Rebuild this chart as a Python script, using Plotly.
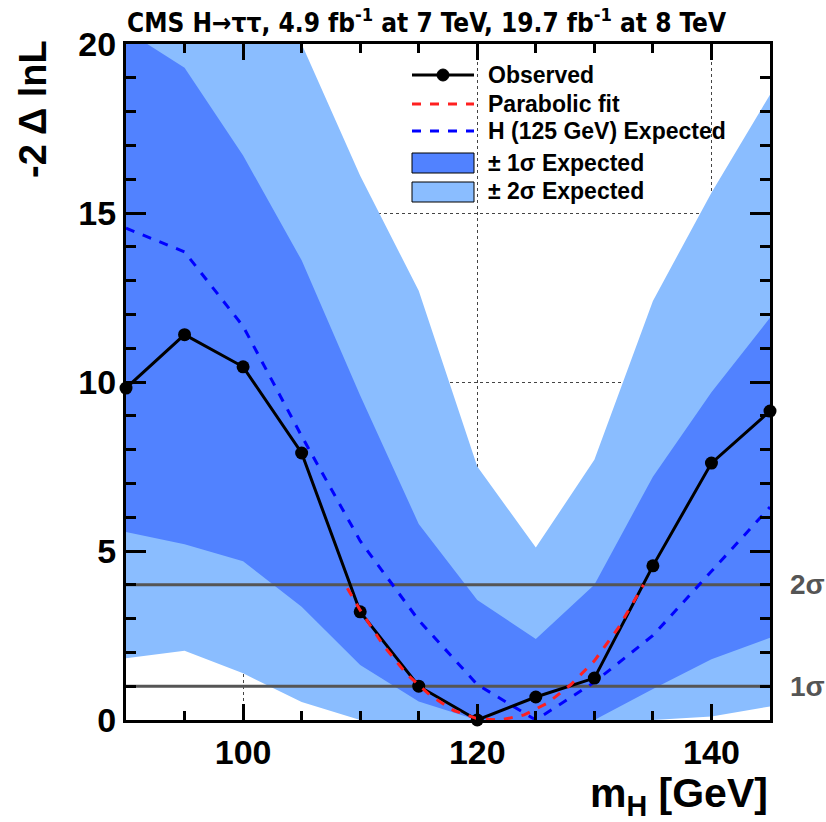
import plotly.graph_objects as go

# ---------------- data ----------------
mass = [90, 95, 100, 105, 110, 115, 120, 125, 130, 135, 140, 145]
observed = [9.82, 11.4, 10.45, 7.9, 3.2, 1.0, 0.0, 0.68, 1.24, 4.56, 7.6, 9.14]
expected = [14.55, 13.85, 11.65, 8.4, 5.3, 2.95, 1.05, 0.0, 1.12, 2.5, 4.4, 6.3]
band1_lo = [5.56, 5.2, 4.7, 3.35, 1.63, 0.55, 0.0, 0.0, 0.0, 0.92, 1.8, 2.43]
band1_hi = [20.4, 19.3, 16.7, 13.6, 9.6, 5.8, 3.55, 2.4, 4.0, 7.2, 9.7, 11.9]
band2_lo = [1.83, 2.05, 1.38, 0.53, 0.0, 0.0, 0.0, 0.0, 0.0, 0.0, 0.1, 0.4]
band2_hi = [26.0, 24.0, 23.0, 20.0, 16.1, 12.7, 7.5, 5.1, 7.7, 12.4, 15.6, 18.5]

fit_mass = [108.9, 110, 112, 114, 116, 118, 120, 122, 124, 126, 128, 130, 132, 134, 134.2]
fit_vals = [3.9, 3.25, 2.2, 1.35, 0.72, 0.28, 0.04, 0.0, 0.15, 0.5, 1.05, 1.75, 2.7, 3.85, 4.0]

sigma_levels = [1, 4]
sigma_labels = ["1σ", "2σ"]

x_ticks = [100, 120, 140]
y_ticks = [0, 5, 10, 15, 20]

# ---------------- style ----------------
C_1S = "#5182FF"
C_2S = "#8ABDFF"
FONT = "Liberation Sans"
W, H = 826, 822
L, R, T, B = 126, 770, 44, 720

fig = go.Figure()

# 2 sigma band
fig.add_trace(go.Scatter(x=mass, y=band2_lo, mode="lines", line=dict(width=0, color=C_2S),
                         showlegend=False, hoverinfo="skip"))
fig.add_trace(go.Scatter(x=mass, y=band2_hi, mode="lines", line=dict(width=0, color=C_2S),
                         fill="tonexty", fillcolor=C_2S, showlegend=False))
# 1 sigma band
fig.add_trace(go.Scatter(x=mass, y=band1_lo, mode="lines", line=dict(width=0, color=C_1S),
                         showlegend=False, hoverinfo="skip"))
fig.add_trace(go.Scatter(x=mass, y=band1_hi, mode="lines", line=dict(width=0, color=C_1S),
                         fill="tonexty", fillcolor=C_1S, showlegend=False))
# sigma lines
for lv in sigma_levels:
    fig.add_trace(go.Scatter(x=[mass[0], mass[-1]], y=[lv, lv], mode="lines",
                             line=dict(color="#555555", width=3), showlegend=False))
# expected
fig.add_trace(go.Scatter(x=mass, y=expected, mode="lines",
                         line=dict(color="#0000FF", width=3, dash="dash"), showlegend=False))
# observed
fig.add_trace(go.Scatter(x=mass, y=observed, mode="lines+markers",
                         line=dict(color="black", width=3),
                         marker=dict(color="black", size=13), cliponaxis=False, showlegend=False))
# parabolic fit
fig.add_trace(go.Scatter(x=fit_mass, y=fit_vals, mode="lines",
                         line=dict(color="#FF2020", width=3, dash="dash"), showlegend=False))


def px(xp):
    return (xp - L) / (R - L)


def py(yp):
    return (B - yp) / (B - T)


ann = []
shapes = []

# sigma labels
for lv, lab in zip(sigma_levels, sigma_labels):
    ann.append(dict(x=px(788), xref="paper", y=lv, yref="y", text=lab, showarrow=False,
                    xanchor="left", yanchor="middle",
                    font=dict(family=FONT, size=28, color="#555555", weight="bold")))

# manual legend
leg_rows = [75, 104, 131, 163, 191]
leg_text = ["Observed", "Parabolic fit", "H (125 GeV) Expected",
            "± 1σ Expected", "± 2σ Expected"]
for yy, t in zip(leg_rows, leg_text):
    ann.append(dict(x=px(486), xref="paper", y=py(yy), yref="paper", text=t, showarrow=False,
                    xanchor="left", yanchor="middle",
                    font=dict(family=FONT, size=23, color="black", weight="bold")))
shapes.append(dict(type="line", xref="paper", yref="paper", x0=px(412), x1=px(474),
                   y0=py(75), y1=py(75), line=dict(color="black", width=3)))
shapes.append(dict(type="circle", xref="paper", yref="paper", x0=px(437), x1=px(449),
                   y0=py(69), y1=py(81), fillcolor="black", line=dict(color="black", width=1)))
shapes.append(dict(type="line", xref="paper", yref="paper", x0=px(412), x1=px(474),
                   y0=py(104), y1=py(104), line=dict(color="#FF2020", width=3, dash="dash")))
shapes.append(dict(type="line", xref="paper", yref="paper", x0=px(412), x1=px(474),
                   y0=py(131), y1=py(131), line=dict(color="#0000FF", width=3, dash="dash")))
shapes.append(dict(type="rect", xref="paper", yref="paper", x0=px(412), x1=px(474),
                   y0=py(153), y1=py(173), fillcolor=C_1S, line=dict(color="black", width=1)))
shapes.append(dict(type="rect", xref="paper", yref="paper", x0=px(412), x1=px(474),
                   y0=py(182), y1=py(202), fillcolor=C_2S, line=dict(color="black", width=1)))

# title
ann.append(dict(x=px(125), xref="paper", y=py(21), yref="paper",
                text="CMS H→ττ, 4.9 fb<sup>-1</sup> at 7 TeV, 19.7 fb<sup>-1</sup> at 8 TeV",
                showarrow=False, xanchor="left", yanchor="middle",
                font=dict(family="Liberation Sans Narrow, DejaVu Sans Condensed, Liberation Sans",
                          size=26, color="black", weight="bold")))
# axis titles
ann.append(dict(x=px(770), xref="paper", y=py(796), yref="paper",
                text="m<sub>H</sub> [GeV]", showarrow=False, xanchor="right", yanchor="middle",
                font=dict(family=FONT, size=41, color="black", weight="bold")))
ann.append(dict(x=px(33), xref="paper", y=py(38), yref="paper", text="-2 Δ lnL",
                textangle=-90, showarrow=False, xanchor="center", yanchor="top",
                font=dict(family=FONT, size=38, color="black", weight="bold")))

axis_common = dict(showline=True, linecolor="black", linewidth=3, mirror="ticks",
                   ticks="inside", tickcolor="black", tickwidth=3,
                   showgrid=True, gridcolor="#444444", gridwidth=1, griddash="dot",
                   zeroline=False,
                   tickfont=dict(family=FONT, size=34, color="black", weight="bold"))

fig.update_layout(
    width=W, height=H,
    margin=dict(l=L, r=W - R, t=T, b=H - B),
    plot_bgcolor="white", paper_bgcolor="white",
    showlegend=False,
    annotations=ann, shapes=shapes,
    xaxis=dict(range=[90, 145], tickvals=x_ticks, ticklen=16,
               minor=dict(dtick=5, tick0=90, ticklen=9, ticks="inside", tickcolor="black",
                          tickwidth=3, showgrid=False),
               **axis_common),
    yaxis=dict(range=[0, 20], tickvals=y_ticks, ticklen=20,
               minor=dict(dtick=1, tick0=0, ticklen=10, ticks="inside", tickcolor="black",
                          tickwidth=3, showgrid=False),
               **axis_common),
)

fig.write_html("out.html", config={"displayModeBar": False},
               post_script="document.body.style.margin='0';document.body.style.overflow='hidden';")
